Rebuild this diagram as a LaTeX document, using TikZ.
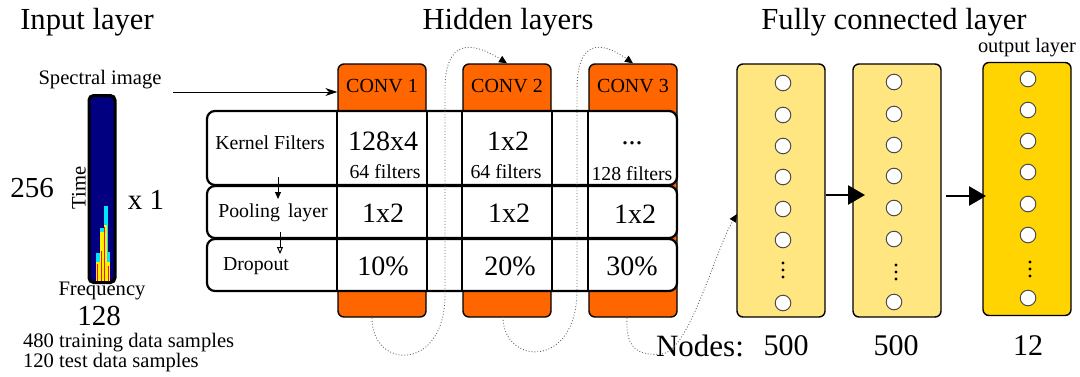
\documentclass[tikz,border=0pt]{standalone}
\usepackage{fontspec}
\setmainfont{Liberation Serif}
\usetikzlibrary{arrows.meta}
\definecolor{convorange}{RGB}{255,102,0}
\definecolor{fclight}{RGB}{255,230,128}
\definecolor{fcgold}{RGB}{255,212,0}
\definecolor{specblue}{RGB}{0,0,128}
\definecolor{speccyan}{RGB}{0,230,255}
\definecolor{specyellow}{RGB}{255,240,0}
\definecolor{specred}{RGB}{230,20,20}
\newcommand\fsz[1]{\fontsize{#1}{#1}\selectfont}
\begin{document}
\begin{tikzpicture}[x=0.5pt,y=-0.5pt,
  convbox/.style={draw=black,line width=0.7pt,fill=convorange,rounded corners=3pt,
    minimum width=44pt,minimum height=126.5pt,inner sep=0pt},
  rowbox/.style={draw=black,line width=1.1pt,fill=white,rounded corners=4pt,
    minimum width=235pt,inner sep=0pt},
  fcbox/.style={draw=black,line width=0.7pt,rounded corners=3pt,
    minimum width=44pt,minimum height=126.5pt,inner sep=0pt},
  neuron/.style={circle,draw=black!70,line width=0.5pt,fill=white,minimum size=7.8pt,inner sep=0pt},
  title/.style={font=\fsz{15.3}},
  small/.style={font=\fsz{9.9}},
  big/.style={font=\fsz{14}},
  dotarrow/.style={densely dotted,draw=black!60,line width=0.45pt,
    -{Triangle[length=4pt,width=3.6pt,color=black]}},
  fcarrow/.style={line width=1.3pt,-{Triangle[length=8.5pt,width=9.5pt]}}
]
\useasboundingbox (0,0) rectangle (1080,376);

% titles
\node[title] (tin) at (87,22) {Input layer};
\node[title] (thid) at (508,22) {Hidden layers};
\node[title] (tfc) at (894,22) {Fully connected layer};

% input layer
\node[small,font=\fsz{10.3}] (spec) at (100,80) {Spectral image};
\node[draw=black,line width=1pt,fill=specblue,rounded corners=2.5pt,minimum width=12.5pt,
  minimum height=93pt,inner sep=0pt] (bar) at (102,189) {};
\begin{scope}
  \fill[speccyan] (96,253) rectangle (100,281);
  \fill[speccyan] (100,228) rectangle (104,281);
  \fill[speccyan] (104,206) rectangle (108,281);
  \fill[speccyan] (108,252) rectangle (110,281);
  \fill[specyellow] (96,262) rectangle (100,281);
  \fill[specyellow] (100,232) rectangle (103.5,281);
  \fill[specyellow] (103.5,225) rectangle (107,281);
  \fill[specyellow] (107,262) rectangle (110,281);
  \fill[specred] (96.5,264) rectangle (98,281);
  \fill[specred] (100.5,251) rectangle (102,281);
  \fill[specred] (103.8,227) rectangle (105.3,281);
  \fill[specred] (107.8,266) rectangle (109.2,281);
\end{scope}
\draw[line width=1pt,rounded corners=2.5pt] (bar.south west) rectangle (bar.north east);
\node[big,font=\fsz{14.5}] (n256) at (32,188) {256};
\node[small,font=\fsz{10.3},rotate=90] (time) at (79,188) {Time};
\node[big,font=\fsz{14.5}] (x1) at (146,200) {x 1};
\node[small,font=\fsz{10.3}] (freq) at (102,291) {Frequency};
\node[big,font=\fsz{14.5}] (n128) at (99,316) {128};
\node[small,font=\fsz{10.3},anchor=west] (train) at (16,343) {480 training data samples};
\node[small,font=\fsz{10.3},anchor=west] (test) at (16,363) {120 test data samples};

% conv boxes
\node[convbox] (c1) at (382,190.5) {};
\node[convbox] (c2) at (507,190.5) {};
\node[convbox] (c3) at (633,190.5) {};
\node[font=\fsz{10}] (l1) at (382,86) {CONV 1};
\node[font=\fsz{10}] (l2) at (507,86) {CONV 2};
\node[font=\fsz{10}] (l3) at (633,86) {CONV 3};

% table rows
\node[rowbox,minimum height=37pt] (r1) at (442,148) {};
\node[rowbox,minimum height=26pt] (r2) at (442,212) {};
\node[rowbox,minimum height=26pt] (r3) at (442,265) {};
\foreach \c in {c1,c2,c3}{
  \draw[line width=1pt] (\c.west |- r1.north) -- (\c.west |- r3.south);
}
\draw[line width=1pt] (c1.east |- r1.north) -- (c1.east |- r3.south);
\draw[line width=1pt] (c2.east |- r1.north) -- (c2.east |- r3.south);

\node[small] (kf) at (270,143) {Kernel Filters};
\node[small] (pl) at (273,213) {Pooling\, layer};
\node[small] (dr) at (256,266) {Dropout};
\coordinate (a1s) at (278,177);
\coordinate (a1e) at (278,199);
\coordinate (a2s) at (280,232);
\coordinate (a2e) at (280,254);
\draw[line width=0.5pt,-{Triangle[length=3.5pt,width=3pt]}] (a1s) -- (a1e);
\draw[line width=0.5pt,-{Triangle[open,length=3.5pt,width=3pt]}] (a2s) -- (a2e);

\node[big] (k1) at (383,141) {128x4};
\node[small] (f1) at (385,172) {64 filters};
\node[big] (k2) at (508,141) {1x2};
\node[small] (f2) at (506,172) {64 filters};
\node[big] (k3) at (632,143) {...};
\node[small] (f3) at (632,174) {128 filters};
\node[big] (p1) at (383,213) {1x2};
\node[big] (p2) at (509,213) {1x2};
\node[big] (p3) at (635,214) {1x2};
\node[big] (d1) at (383,266) {10\%};
\node[big] (d2) at (510,266) {20\%};
\node[big] (d3) at (632,266) {30\%};

% fully connected boxes
\node[fcbox,fill=fclight] (f1box) at (781,190.5) {};
\node[fcbox,fill=fclight] (f2box) at (897,190.5) {};
\node[fcbox,fill=fcgold] (f3box) at (1027,189) {};
\foreach \y [count=\i] in {83,115,146,177,209,240,303}{
  \node[neuron] (a\i) at (783,\y) {};
}
\foreach \y [count=\i] in {82,114,145,176,208,239,302}{
  \node[neuron] (b\i) at (894,\y) {};
}
\foreach \y [count=\i] in {79,110,141,172,204,235,298}{
  \node[neuron] (o\i) at (1028,\y) {};
}
\foreach \y in {263,270,277} \fill (783,\y) circle (1.7);
\foreach \y in {265,272,279} \fill (896,\y) circle (1.7);
\foreach \y in {262,269,276} \fill (1030,\y) circle (1.7);
\node[font=\fsz{10.2}] (outl) at (1027,48) {output layer};

\coordinate (fa) at (865,195);
\coordinate (fb) at (946,196);
\coordinate (fc) at (986,196);
\draw[fcarrow] (f1box.east |- fa) -- (fa);
\draw[fcarrow] (fb) -- (fc);

\node[big,font=\fsz{15.5}] (nodes) at (700,346) {Nodes:};
\node[big,font=\fsz{15}] (n500a) at (786,346) {500};
\node[big,font=\fsz{15}] (n500b) at (896,346) {500};
\node[big,font=\fsz{15}] (n12) at (1028,346) {12};

% spectral arrow
\coordinate (sa) at (173,92);
\draw[line width=0.5pt,-{Stealth[length=6pt,width=4pt]}] (sa) -- (c1.west |- sa);

% dotted connectors
\draw[dotarrow] (372,318) .. controls (372,370) and (445,372) .. (445,295)
   -- (445,90) .. controls (445,40) and (470,40) .. (c2.north);
\draw[dotarrow] (503,317) .. controls (503,365) and (577,370) .. (577,290)
   -- (577,90) .. controls (577,40) and (600,40) .. (c3.north);
\coordinate (fin) at (737,214);
\draw[dotarrow] (627,318) .. controls (625,350) and (640,356) .. (662,354)
   .. controls (690,350) and (715,250) .. (fin);
\end{tikzpicture}
\end{document}
